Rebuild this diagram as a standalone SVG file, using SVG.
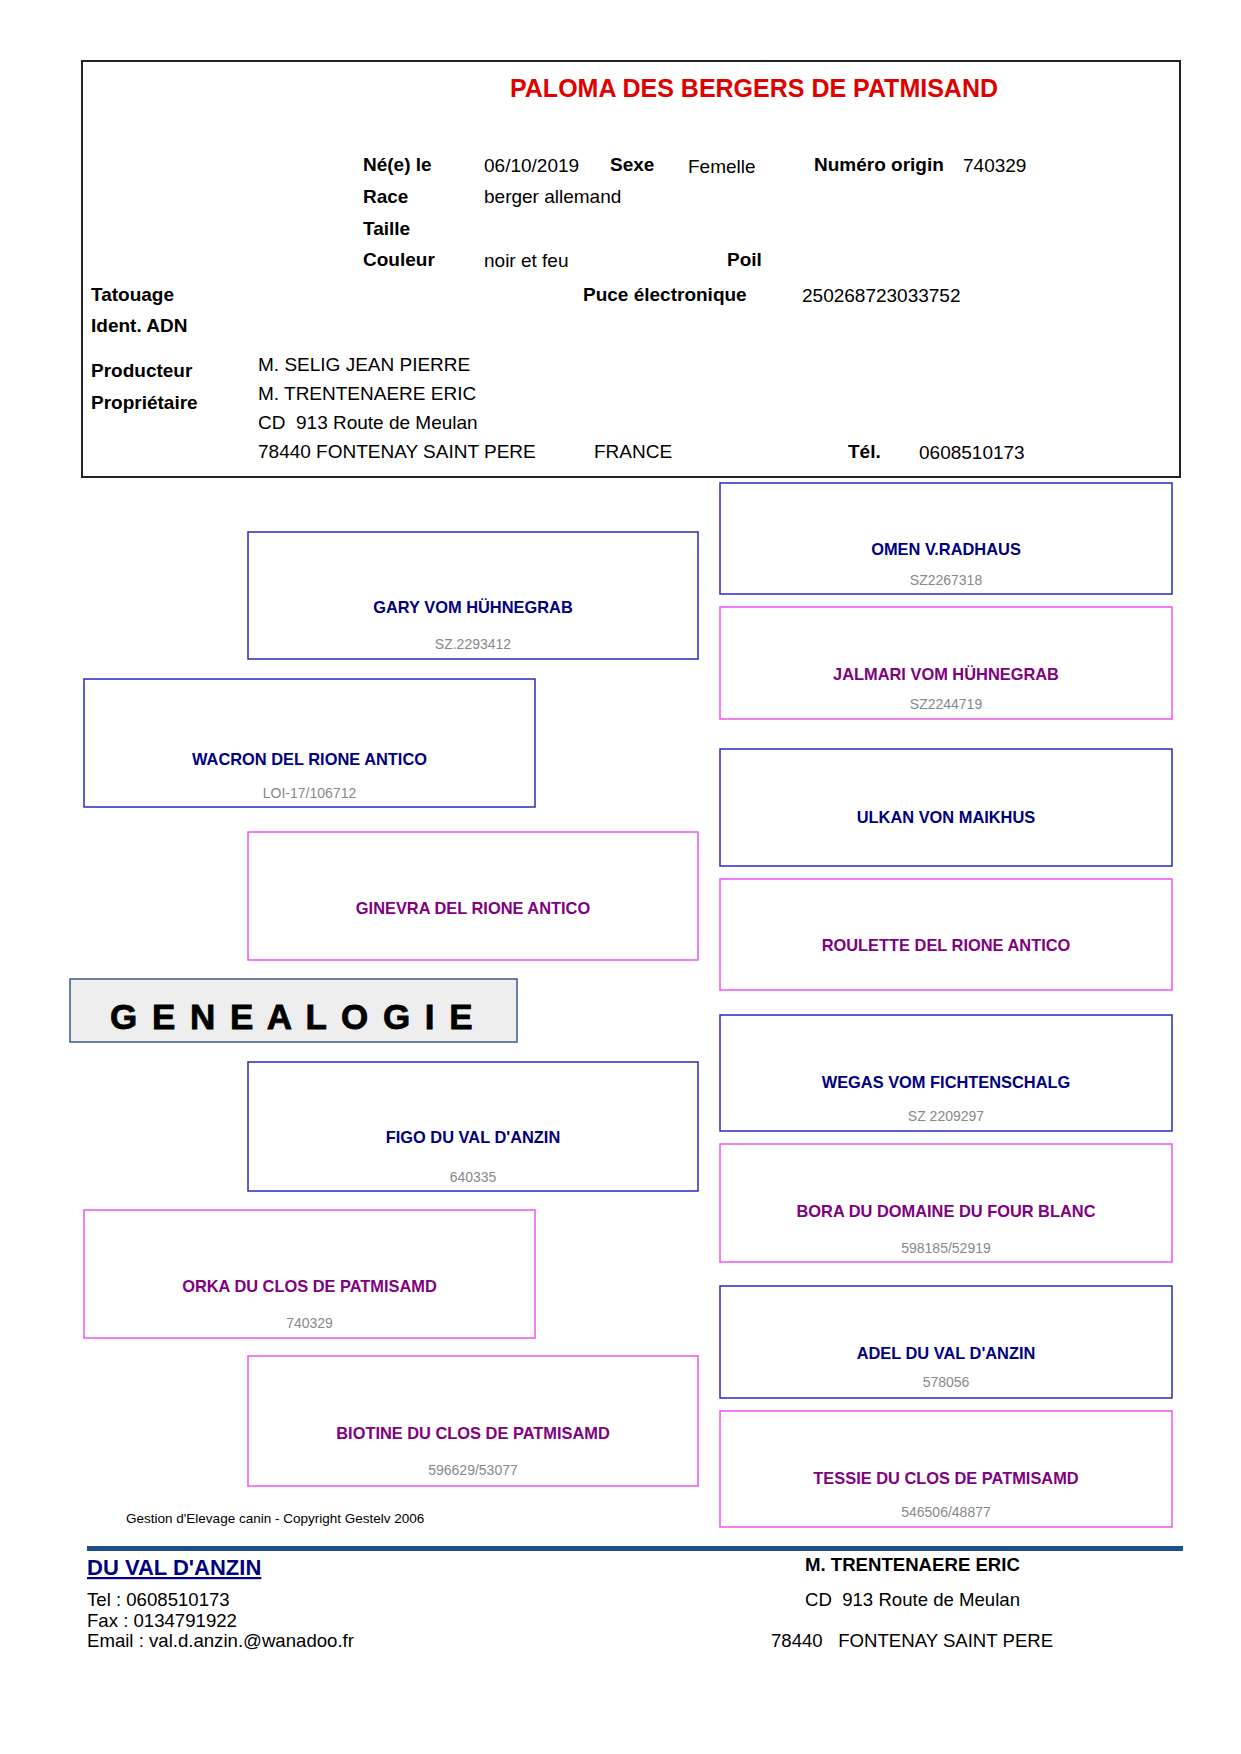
<svg xmlns="http://www.w3.org/2000/svg" width="1241" height="1754" viewBox="0 0 1241 1754" xml:space="preserve">
<style>
text{font-family:"Liberation Sans",Arial,sans-serif;white-space:pre}
.lb{font-size:19px;font-weight:bold;fill:#000}
.v{font-size:19px;fill:#000}
.bx{fill:#fff;stroke-width:1.5}
.m{stroke:#2a2ac0}
.f{stroke:#ee55ee}
.nm{font-size:16.4px;font-weight:bold;text-anchor:middle}
.nb{fill:#000080}
.np{fill:#800080}
.id{font-size:14px;fill:#888;text-anchor:middle}
.ft{font-size:18.6px;fill:#000}
</style>
<rect width="1241" height="1754" fill="#fff"/>
<g id="header">
<rect x="82" y="61" width="1098" height="416" fill="#fff" stroke="#222" stroke-width="2"/>
<text x="754" y="97" text-anchor="middle" font-size="25" font-weight="bold" fill="#e00000">PALOMA DES BERGERS DE PATMISAND</text>
<text class="lb" x="363" y="171">Né(e) le</text>
<text class="v" x="484" y="172">06/10/2019</text>
<text class="lb" x="610" y="171">Sexe</text>
<text class="v" x="688" y="173">Femelle</text>
<text class="lb" x="814" y="171">Numéro origin</text>
<text class="v" x="963" y="172">740329</text>
<text class="lb" x="363" y="203">Race</text>
<text class="v" x="484" y="203">berger allemand</text>
<text class="lb" x="363" y="235">Taille</text>
<text class="lb" x="363" y="266">Couleur</text>
<text class="v" x="484" y="267">noir et feu</text>
<text class="lb" x="727" y="266">Poil</text>
<text class="lb" x="91" y="301">Tatouage</text>
<text class="lb" x="583" y="301">Puce électronique</text>
<text class="v" x="802" y="302">250268723033752</text>
<text class="lb" x="91" y="332">Ident. ADN</text>
<text class="lb" x="91" y="377">Producteur</text>
<text class="v" x="258" y="371">M. SELIG JEAN PIERRE</text>
<text class="lb" x="91" y="409">Propriétaire</text>
<text class="v" x="258" y="400">M. TRENTENAERE ERIC</text>
<text class="v" x="258" y="429">CD  913 Route de Meulan</text>
<text class="v" x="258" y="458">78440 FONTENAY SAINT PERE</text>
<text class="v" x="594" y="458">FRANCE</text>
<text class="lb" x="848" y="458">Tél.</text>
<text class="v" x="919" y="459">0608510173</text>
</g>
<g id="connectors"/>
<g id="wacron"><rect class="bx m" x="84" y="679" width="451" height="128"/><text class="nm nb" x="309.5" y="765">WACRON DEL RIONE ANTICO</text><text class="id" x="309.5" y="798">LOI-17/106712</text></g>
<g id="orka"><rect class="bx f" x="84" y="1210" width="451" height="128"/><text class="nm np" x="309.5" y="1292">ORKA DU CLOS DE PATMISAMD</text><text class="id" x="309.5" y="1328">740329</text></g>
<g id="gary"><rect class="bx m" x="248" y="532" width="450" height="127"/><text class="nm nb" x="473" y="613">GARY VOM HÜHNEGRAB</text><text class="id" x="473" y="649">SZ.2293412</text></g>
<g id="ginevra"><rect class="bx f" x="248" y="832" width="450" height="128"/><text class="nm np" x="473" y="914">GINEVRA DEL RIONE ANTICO</text></g>
<g id="figo"><rect class="bx m" x="248" y="1062" width="450" height="129"/><text class="nm nb" x="473" y="1143">FIGO DU VAL D'ANZIN</text><text class="id" x="473" y="1182">640335</text></g>
<g id="biotine"><rect class="bx f" x="248" y="1356" width="450" height="130"/><text class="nm np" x="473" y="1439">BIOTINE DU CLOS DE PATMISAMD</text><text class="id" x="473" y="1475">596629/53077</text></g>
<g id="omen"><rect class="bx m" x="720" y="483" width="452" height="111"/><text class="nm nb" x="946" y="555">OMEN V.RADHAUS</text><text class="id" x="946" y="585">SZ2267318</text></g>
<g id="jalmari"><rect class="bx f" x="720" y="607" width="452" height="112"/><text class="nm np" x="946" y="680">JALMARI VOM HÜHNEGRAB</text><text class="id" x="946" y="709">SZ2244719</text></g>
<g id="ulkan"><rect class="bx m" x="720" y="749" width="452" height="117"/><text class="nm nb" x="946" y="823">ULKAN VON MAIKHUS</text></g>
<g id="roulette"><rect class="bx f" x="720" y="879" width="452" height="111"/><text class="nm np" x="946" y="951">ROULETTE DEL RIONE ANTICO</text></g>
<g id="wegas"><rect class="bx m" x="720" y="1015" width="452" height="116"/><text class="nm nb" x="946" y="1088">WEGAS VOM FICHTENSCHALG</text><text class="id" x="946" y="1121">SZ 2209297</text></g>
<g id="bora"><rect class="bx f" x="720" y="1144" width="452" height="118"/><text class="nm np" x="946" y="1217">BORA DU DOMAINE DU FOUR BLANC</text><text class="id" x="946" y="1253">598185/52919</text></g>
<g id="adel"><rect class="bx m" x="720" y="1286" width="452" height="112"/><text class="nm nb" x="946" y="1359">ADEL DU VAL D'ANZIN</text><text class="id" x="946" y="1387">578056</text></g>
<g id="tessie"><rect class="bx f" x="720" y="1411" width="452" height="116"/><text class="nm np" x="946" y="1484">TESSIE DU CLOS DE PATMISAMD</text><text class="id" x="946" y="1517">546506/48877</text></g>
<g id="genealogie">
<rect x="70" y="979" width="447" height="63" fill="#eeeeee" stroke="#3a5a8a" stroke-width="1.5"/>
<text x="110" y="1029" font-size="35" font-weight="900" fill="#000" stroke="#000" stroke-width="0.8" letter-spacing="2.5">G E N E A L O G I E</text>
</g>
<g id="footer">
<text x="126" y="1523" font-size="13.5" fill="#000">Gestion d'Elevage canin - Copyright Gestelv 2006</text>
<rect x="87" y="1546" width="1096" height="5" fill="#1f4e8c"/>
<text x="87" y="1575" font-size="22" font-weight="bold" fill="#000080" text-decoration="underline">DU VAL D'ANZIN</text>
<text class="ft" x="87" y="1606">Tel : 0608510173</text>
<text class="ft" x="87" y="1627">Fax : 0134791922</text>
<text class="ft" x="87" y="1647">Email : val.d.anzin.@wanadoo.fr</text>
<text class="ft" x="805" y="1571" font-weight="bold">M. TRENTENAERE ERIC</text>
<text class="ft" x="805" y="1606">CD  913 Route de Meulan</text>
<text class="ft" x="771" y="1647">78440   FONTENAY SAINT PERE</text>
</g>
</svg>
